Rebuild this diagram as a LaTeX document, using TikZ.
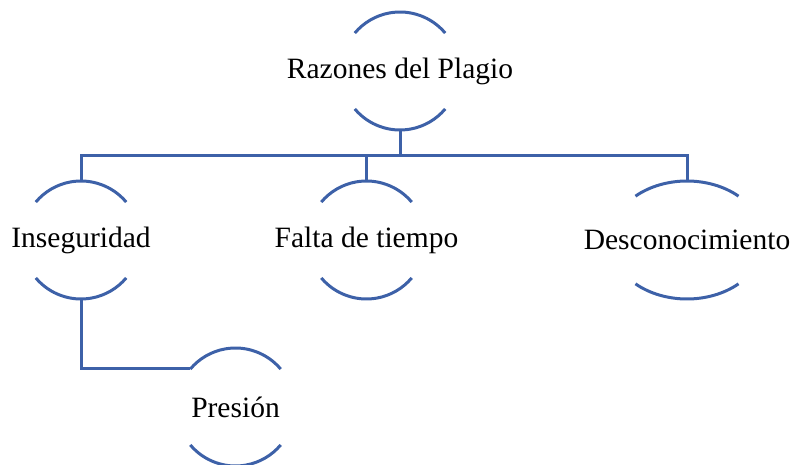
\documentclass[tikz,border=0pt]{standalone}
\usepackage{fontspec}
\setmainfont{Liberation Serif}
\usepackage{tikz}
\usetikzlibrary{positioning}
\definecolor{brkblue}{RGB}{61,97,168}

\begin{document}
\begin{tikzpicture}[on grid,
	item/.style={circle, minimum size=118pt, inner sep=0pt, font=\fontsize{29.5}{35}\selectfont},
	brk/.style={draw=brkblue, line width=3pt},
	conn/.style={draw=brkblue, line width=3pt},
	down/.style={to path={-- ++(0,-25pt) -| (\tikztotarget)}}]
	\useasboundingbox (0,0) rectangle (792pt,-465pt);
	
	\node[item] (r) at (400pt,-71pt) {\makebox[0pt]{Razones del Plagio}};
	
	\node[item, below left = 169pt and 319pt of r] (i) {\makebox[0pt]{Inseguridad}};
	\node[item, below left = 169pt and 33.5pt of r] (f) {\makebox[0pt]{Falta de tiempo}};
	\node[item, below right = 169pt and 287pt of r] (d) {\makebox[0pt]{Desconocimiento}};
	
	\node[item, below right = 167pt and 154.5pt of i] (p) {\makebox[0pt]{Presión}};
	
	% arcs above and below each text
	\foreach \n/\rx/\a in {r/59/40, i/59/40, f/59/40, d/77/48, p/59/40}{
		\draw[brk] ([shift={(\a:\rx pt and 59pt)}]\n.center)
			arc[start angle=\a, end angle=180-\a, x radius=\rx pt, y radius=59pt];
		\draw[brk] ([shift={(180+\a:\rx pt and 59pt)}]\n.center)
			arc[start angle=180+\a, end angle=360-\a, x radius=\rx pt, y radius=59pt];
	}
	
	\path[conn] (r.south) edge[down] (i.north)
	(r.south) edge[down] (f.north)
	(r.south) edge[down] (d.north)
	(i.south) edge[to path={|- (\tikztotarget)}] (p.140);
\end{tikzpicture}
\end{document}
